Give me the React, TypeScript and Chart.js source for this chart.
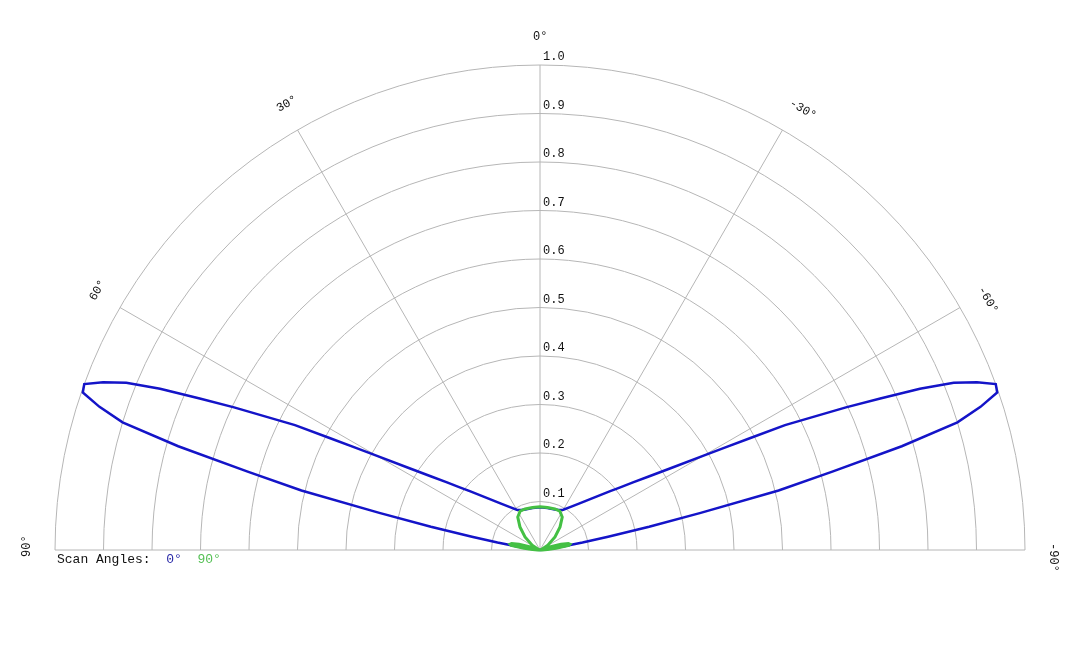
import { useEffect, useRef } from "react";
import { Chart, registerables } from "chart.js";

Chart.register(...registerables);

// scan 0° : angle (deg) / normalised gain
const blueAngles = [
  -90, -85, -82, -81, -80, -79, -78, -77, -76, -75, -74, -73, -72, -71, -70,
  -69, -68, -67, -66, -65, -64, -63, -62, -61, -60, -58, -56, -54, -52, -50,
  -45, -40, -35, -30, -25, -20, -10, 0, 10, 20, 25, 30, 35, 40, 45, 50, 52, 54,
  56, 58, 60, 61, 62, 63, 64, 65, 66, 67, 68, 69, 70, 71, 72, 73, 74, 75, 76,
  77, 78, 79, 80, 81, 82, 85, 90,
];
const blueGain = [
  0, 0, 0.02, 0.05, 0.089, 0.143, 0.23, 0.34, 0.507, 0.624, 0.776, 0.9, 0.955,
  0.997, 1.0, 0.965, 0.92, 0.851, 0.768, 0.696, 0.625, 0.567, 0.493, 0.434,
  0.388, 0.319, 0.272, 0.237, 0.21, 0.189, 0.15, 0.125, 0.108, 0.096, 0.091,
  0.089, 0.088, 0.088, 0.088, 0.089, 0.091, 0.096, 0.108, 0.125, 0.15, 0.189,
  0.21, 0.237, 0.272, 0.319, 0.388, 0.434, 0.493, 0.567, 0.625, 0.696, 0.768,
  0.851, 0.92, 0.965, 1.0, 0.997, 0.955, 0.9, 0.776, 0.624, 0.507, 0.34, 0.23,
  0.143, 0.089, 0.05, 0.02, 0, 0,
];

// scan 90°
const greenAngles = [
  -90, -88, -86, -84, -81, -79, -77, -75, -73, -70, -67, -64, -58, -49, -41,
  -34, -27, -20, -10, 0, 10, 20, 27, 34, 41, 49, 58, 64, 67, 70, 73, 75, 77,
  79, 81, 84, 86, 88, 90,
];
const greenGain = [
  0, 0.005, 0.015, 0.033, 0.06, 0.063, 0.06, 0.045, 0.025, 0.005, 0.002, 0.006,
  0.019, 0.041, 0.063, 0.082, 0.09, 0.09, 0.089, 0.089, 0.089, 0.09, 0.09,
  0.082, 0.063, 0.041, 0.019, 0.006, 0.002, 0.005, 0.025, 0.045, 0.06, 0.063,
  0.06, 0.033, 0.015, 0.005, 0,
];

const radialTicks = [0.1, 0.2, 0.3, 0.4, 0.5, 0.6, 0.7, 0.8, 0.9, 1.0];
const spokeAngles = [-60, -30, 0, 30, 60];
const angleLabels = [90, 60, 30, 0, -30, -60, -90];

const BLUE = "#1414c8";
const GREEN = "#44c044";
const GRID = "#b6b6b6";
const FONT = "'Liberation Mono', 'DejaVu Sans Mono', monospace";

const toXY = (angles: number[], gains: number[]) =>
  angles.map((a, i) => {
    const t = (a * Math.PI) / 180;
    return { x: -gains[i] * Math.sin(t), y: gains[i] * Math.cos(t) };
  });

const polarGrid = {
  id: "polarGrid",
  beforeDatasetsDraw(chart: any) {
    const { ctx, scales } = chart;
    const xs = scales.x;
    const ys = scales.y;
    const cx = xs.getPixelForValue(0);
    const cy = ys.getPixelForValue(0);
    const px = (v: number) => xs.getPixelForValue(v) - cx;
    ctx.save();
    ctx.strokeStyle = GRID;
    ctx.lineWidth = 1;
    radialTicks.forEach((r) => {
      ctx.beginPath();
      ctx.arc(cx, cy, px(r), Math.PI, 2 * Math.PI);
      ctx.stroke();
    });
    spokeAngles.forEach((a) => {
      const t = (a * Math.PI) / 180;
      ctx.beginPath();
      ctx.moveTo(cx, cy);
      ctx.lineTo(xs.getPixelForValue(-Math.sin(t)), ys.getPixelForValue(Math.cos(t)));
      ctx.stroke();
    });
    ctx.beginPath();
    ctx.moveTo(xs.getPixelForValue(-1), cy);
    ctx.lineTo(xs.getPixelForValue(1), cy);
    ctx.stroke();

    ctx.fillStyle = "#111";
    ctx.font = `12px ${FONT}`;
    ctx.textAlign = "left";
    ctx.textBaseline = "middle";
    radialTicks.forEach((r) => {
      ctx.fillText(r.toFixed(1), cx + 3, ys.getPixelForValue(r) - 8);
    });

    // angle labels start one char before the anchor
    const labelR = px(1) + 28;
    angleLabels.forEach((a) => {
      const t = (a * Math.PI) / 180;
      ctx.save();
      ctx.translate(cx - labelR * Math.sin(t), cy - labelR * Math.cos(t));
      ctx.rotate(-t);
      ctx.fillText(`${a}°`, -7, 0);
      ctx.restore();
    });

    // legend
    ctx.font = `13px ${FONT}`;
    const lx = xs.getPixelForValue(-1) + 2;
    const ly = cy + 10;
    ctx.fillStyle = "#111";
    ctx.fillText("Scan Angles:", lx, ly);
    ctx.fillStyle = "#2a2aa8";
    ctx.fillText("0°", lx + ctx.measureText("Scan Angles:  ").width, ly);
    ctx.fillStyle = "#55c055";
    ctx.fillText("90°", lx + ctx.measureText("Scan Angles:  0°  ").width, ly);
    ctx.restore();
  },
};

export default function App() {
  const canvasRef = useRef<HTMLCanvasElement | null>(null);
  const chartRef = useRef<Chart | null>(null);

  useEffect(() => {
    const canvas = canvasRef.current;
    if (!canvas) return;
    chartRef.current?.destroy();
    chartRef.current = new Chart(canvas, {
      type: "scatter",
      data: {
        datasets: [
          {
            label: "90°",
            data: toXY(greenAngles, greenGain),
            borderColor: GREEN,
            borderWidth: 3,
            showLine: true,
            pointRadius: 0,
            order: 0,
            clip: false as any,
          },
          {
            label: "0°",
            data: toXY(blueAngles, blueGain),
            borderColor: BLUE,
            borderWidth: 2.5,
            showLine: true,
            pointRadius: 0,
            order: 1,
            clip: false as any,
          },
        ],
      },
      options: {
        animation: false,
        responsive: true,
        maintainAspectRatio: false,
        layout: { padding: { left: 55, right: 55, top: 65, bottom: 98 } },
        plugins: { legend: { display: false }, tooltip: { enabled: false } },
        scales: {
          x: { type: "linear", min: -1, max: 1, display: false },
          y: { type: "linear", min: 0, max: 1, display: false },
        },
      },
      plugins: [polarGrid],
    });
    return () => {
      chartRef.current?.destroy();
      chartRef.current = null;
    };
  }, []);

  return (
    <div
      style={{
        position: "fixed",
        left: 0,
        top: 0,
        width: 1080,
        height: 648,
        background: "#fff",
      }}
    >
      <canvas ref={canvasRef}></canvas>
    </div>
  );
}
